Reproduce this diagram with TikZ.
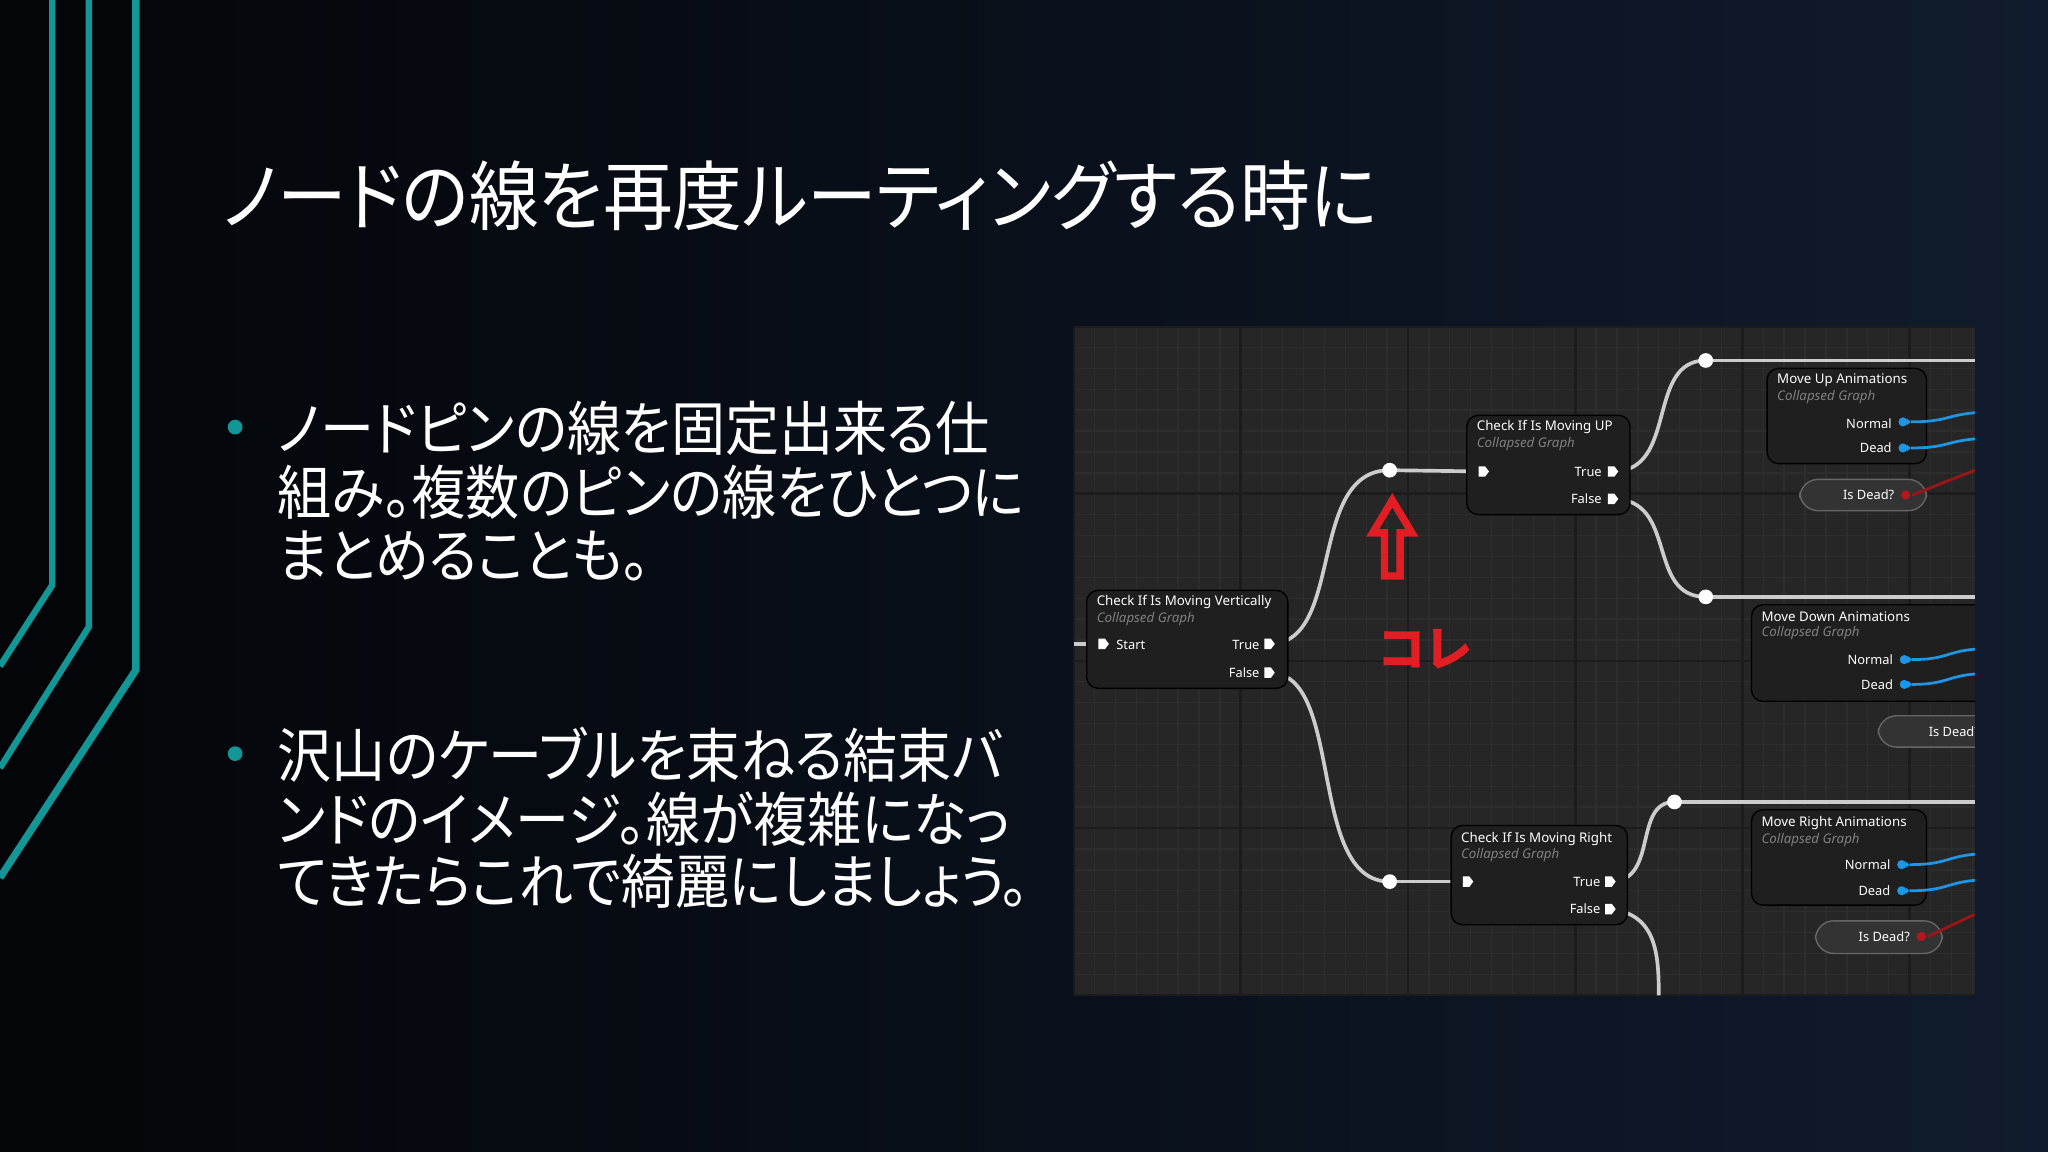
\documentclass[tikz,border=0pt]{standalone}
\usepackage{fontspec}
\setmainfont{Noto Sans}
\newfontfamily\jp[RawFeature=+palt,FakeStretch=0.92]{Noto Sans CJK JP}
\newfontfamily\jpb[RawFeature=+palt]{Noto Sans CJK JP}
\usetikzlibrary{calc}
\definecolor{teal1}{RGB}{18,150,150}
\definecolor{bgL}{RGB}{3,5,8}
\definecolor{bgR}{RGB}{16,27,45}
\definecolor{scr}{RGB}{38,38,38}
\definecolor{gridmin}{RGB}{45,45,45}
\definecolor{gridmaj}{RGB}{28,28,28}
\definecolor{pinblue}{RGB}{30,150,230}
\definecolor{ured}{RGB}{225,30,35}
\tikzset{
  ue/.style={fill=black!88,draw=black,rounded corners=2.5,line width=0.3pt},
  pill/.style={fill=black!80,draw=black!60,rounded corners=4,line width=0.3pt},
  wire/.style={white!80!black,line width=0.8pt},
  bwire/.style={pinblue,line width=0.6pt},
  ttl/.style={anchor=west,text=white,font=\fontsize{2.9}{3.6}\selectfont\bfseries,inner sep=0},
  sub/.style={anchor=west,text=black!50,font=\fontsize{2.9}{3.6}\selectfont\itshape,inner sep=0},
  lbl/.style={text=white,font=\fontsize{2.8}{3.6}\selectfont,inner sep=0},
  rr/.style={circle,fill=white,inner sep=0,minimum size=3.2pt},
  bullet/.style={circle,fill=teal1,inner sep=0,minimum size=3.2pt},
  body/.style={anchor=base west,text=white,inner sep=0,font=\jp\fontsize{12.8}{14.2}\selectfont}
}
\newcommand\execpin[1]{\fill[white] ($(#1)+(-4,-4)$) -- ++(5,0) -- ++(3,4) -- ++(-3,4) -- ++(-5,0) -- cycle;}
\newcommand\bluepin[1]{\fill[pinblue] (#1) circle (3.5); \fill[pinblue] ($(#1)+(3,-2.5)$) -- ++(3,2.5) -- ++(-3,2.5) -- cycle;}
\newcommand\redpin[1]{\fill[ured!80!black] (#1) circle (3.5);}
\begin{document}
\begin{tikzpicture}[x=0.01cm,y=-0.01cm]
\useasboundingbox (0,0) rectangle (1568,882);
\shade[left color=bgL,right color=bgR] (0,0) rectangle (1568,882);
\fill[bgL,opacity=0.5] (0,0) rectangle (110,882);
% teal lines
\draw[teal1,line width=1.4pt] (40,0) -- (40,448) -- (0,510);
\draw[teal1,line width=1.4pt] (68,0) -- (68,480) -- (0,588);
\draw[teal1,line width=1.6pt] (104,0) -- (104,513) -- (0,672);
% title
\node[anchor=west,text=white,inner sep=0,font=\jp\fontsize{16.5}{18}\selectfont] (title) at (170,150) {ノードの線を再度ルーティングする時に};
% bullets
\node[bullet] (b1) at (180,327) {};
\node[bullet] (b2) at (180,577) {};
\node[body] (t1) at (212,345) {ノードピンの線を固定出来る仕};
\node[body] (t2) at (212,394) {組み。複数のピンの線をひとつに};
\node[body] (t3) at (212,442) {まとめることも。};
\node[body] (t4) at (212,595) {沢山のケーブルを束ねる結束バ};
\node[body] (t5) at (212,644) {ンドのイメージ。線が複雑になっ};
\node[body] (t6) at (212,692) {てきたらこれで綺麗にしましょう。};
% screenshot
\fill[scr] (822,250) rectangle (1512,762);
\begin{scope}
\clip (822,250) rectangle (1512,762);
\foreach \i in {0,...,44} {\draw[gridmin,line width=0.3pt] (822+16*\i,250) -- (822+16*\i,762);}
\foreach \i in {0,...,32} {\draw[gridmin,line width=0.3pt] (822,250+16*\i) -- (1512,250+16*\i);}
\foreach \i in {0,...,6} {\draw[gridmaj,line width=0.6pt] (822+128*\i,250) -- (822+128*\i,762);}
\foreach \i in {0,...,4} {\draw[gridmaj,line width=0.6pt] (822,250+128*\i) -- (1512,250+128*\i);}
% coordinates
\coordinate (vS) at (845,493); \coordinate (vT) at (972,493); \coordinate (vF) at (972,515);
\coordinate (uI) at (1136,361); \coordinate (uT) at (1235,361); \coordinate (uF) at (1235,382);
\coordinate (rI) at (1124,675); \coordinate (rT) at (1233,675); \coordinate (rF) at (1233,696);
\coordinate (lin) at (822,493);
\coordinate (e1) at (1512,276); \coordinate (e2) at (1512,457); \coordinate (e3) at (1512,614);
\coordinate (bot) at (1270,762);
% wires
\draw[wire] (lin) -- (vS);
\draw[wire] (vT) .. controls (1030,493) and (1000,360) .. (1064,360) coordinate (r1);
\draw[wire] (vF) .. controls (1030,515) and (1000,675) .. (1064,675) coordinate (r2);
\draw[wire] (r1) -- (uI);
\draw[wire] (r2) -- (rI);
\draw[wire] (uT) .. controls (1285,361) and (1260,276) .. (1306,276) coordinate (r3);
\draw[wire] (uF) .. controls (1285,382) and (1260,457) .. (1306,457) coordinate (r4);
\draw[wire] (rT) .. controls (1270,675) and (1250,614) .. (1282,614) coordinate (r5);
\draw[wire] (rF) .. controls (1268,700) and (1270,730) .. (bot);
\draw[wire] (r3) -- (e1); \draw[wire] (r4) -- (e2); \draw[wire] (r5) -- (e3);
\node[rr] (rr1) at (r1) {}; \node[rr] (rr2) at (r2) {}; \node[rr] (rr3) at (r3) {};
\node[rr] (rr4) at (r4) {}; \node[rr] (rr5) at (r5) {};
% node boxes
\draw[ue] (832,452) rectangle (986,527);
\node[ttl] (n1) at (839,461) {Check If Is Moving Vertically};
\node[sub] (n1s) at (839,474) {Collapsed Graph};
\execpin{vS} \node[lbl,anchor=west] at (854,494) {Start};
\execpin{vT} \node[lbl,anchor=east] at (965,494) {True};
\execpin{vF} \node[lbl,anchor=east] at (965,515) {False};
\draw[ue] (1123,318) rectangle (1248,394);
\node[ttl] (n2) at (1130,327) {Check If Is Moving UP};
\node[sub] at (1130,340) {Collapsed Graph};
\execpin{uI} \execpin{uT} \execpin{uF}
\node[lbl,anchor=east] at (1227,361) {True};
\node[lbl,anchor=east] at (1227,382) {False};
\draw[ue] (1111,632) rectangle (1246,708);
\node[ttl] (n3) at (1118,642) {Check If Is Moving Right};
\node[sub] at (1118,655) {Collapsed Graph};
\execpin{rI} \execpin{rT} \execpin{rF}
\node[lbl,anchor=east] at (1226,675) {True};
\node[lbl,anchor=east] at (1226,696) {False};
% animation nodes
\draw[ue] (1353,282) rectangle (1475,355);
\node[ttl] at (1360,291) {Move Up Animations};
\node[sub] at (1360,304) {Collapsed Graph};
\node[lbl,anchor=east] at (1449,324) {Normal};
\node[lbl,anchor=east] at (1449,343) {Dead};
\draw[bwire] (1463,323) .. controls (1490,323) and (1490,318) .. (1512,316);
\draw[bwire] (1463,343) .. controls (1490,343) and (1490,338) .. (1512,336);
\bluepin{1457,323} \bluepin{1457,343}
\draw[pill] (1378,367) rectangle (1475,391);
\node[lbl,anchor=east] at (1451,379) {Is Dead?};
\draw[ured!70!black,line width=0.6pt] (1464,379) -- (1512,360);
\redpin{1459,379}
\draw[ue] (1341,463) rectangle (1530,537);
\node[ttl] at (1348,472) {Move Down Animations};
\node[sub] at (1348,485) {Collapsed Graph};
\node[lbl,anchor=east] at (1450,505) {Normal};
\node[lbl,anchor=east] at (1450,524) {Dead};
\draw[bwire] (1464,505) .. controls (1490,505) and (1490,499) .. (1512,497);
\draw[bwire] (1464,524) .. controls (1490,524) and (1490,518) .. (1512,516);
\bluepin{1458,505} \bluepin{1458,524}
\draw[pill] (1438,548) rectangle (1540,572);
\node[lbl,anchor=west] at (1476,560) {Is Dead?};
\draw[ue] (1341,620) rectangle (1475,693);
\node[ttl] at (1348,630) {Move Right Animations};
\node[sub] at (1348,643) {Collapsed Graph};
\node[lbl,anchor=east] at (1448,662) {Normal};
\node[lbl,anchor=east] at (1448,682) {Dead};
\draw[bwire] (1462,662) .. controls (1490,662) and (1490,656) .. (1512,654);
\draw[bwire] (1462,682) .. controls (1490,682) and (1490,676) .. (1512,674);
\bluepin{1456,662} \bluepin{1456,682}
\draw[pill] (1390,705) rectangle (1487,730);
\node[lbl,anchor=east] at (1463,717) {Is Dead?};
\draw[ured!70!black,line width=0.6pt] (1476,717) -- (1512,700);
\redpin{1471,717}
% red arrow
\draw[ured,line width=1.6pt,line join=miter] (1066,383) -- (1081,408) -- (1072,408) -- (1072,441) -- (1060,441) -- (1060,408) -- (1051,408) -- cycle;
\node[text=ured,inner sep=0,font=\jpb\bfseries\fontsize{10.5}{11}\selectfont] (kore) at (1091,497) {コレ};
\end{scope}
\end{tikzpicture}
\end{document}
